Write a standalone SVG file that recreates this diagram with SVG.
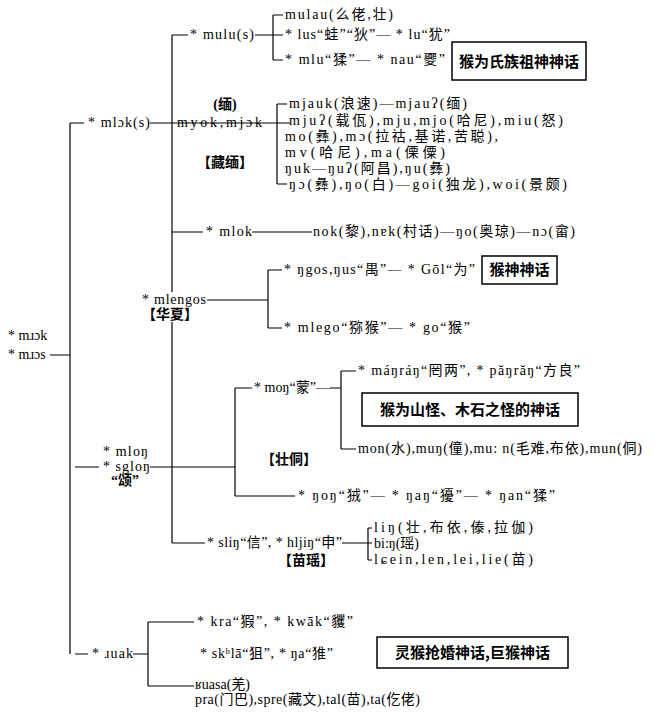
<svg xmlns="http://www.w3.org/2000/svg" width="660" height="720" viewBox="0 0 660 720">
<style>
.t{font-family:"Liberation Serif","Noto Sans CJK SC",serif;font-size:14px;fill:#000}
.c{text-anchor:middle}
.b{font-weight:bold}
.bx{font-family:"Noto Sans CJK SC",sans-serif;font-size:15px;font-weight:bold;fill:#000;text-anchor:middle}
.ln{stroke:#000;stroke-width:1.2;fill:none}
.box{stroke:#000;stroke-width:1.5;fill:#fff}
</style>
<rect width="660" height="720" fill="#fff"/>
<g id="connectors" class="ln">
<path d="M50 355H70M70 123V654"/>
<path d="M70 123H84M150 123H290"/>
<path d="M172 35V292M172 322V543"/>
<path d="M172 35H188M255 35H283M273 15V60M273 15H283M273 60H283"/>
<path d="M277 104V184M277 104H287M277 184H287"/>
<path d="M172 232H203M252 232H312"/>
<path d="M207 300H268M268 270V328M268 270H282M268 328H282"/>
<path d="M75 467H99M150 467H235M235 388V496M235 388H252M235 496H295"/>
<path d="M330 388H341M341 371V449M341 371H356M341 449H356"/>
<path d="M172 543H205M342 543H372M368 528V560M368 528H372M368 560H372"/>
<path d="M75 654H88M133 654H148M148 622V686M148 622H194M148 686H194"/>
</g>
<g id="root">
<text class="t" x="8" y="340">* mɹɔk</text>
<text class="t" x="8" y="359">* mɹɔs</text>
</g>
<g id="mlok-s">
<text class="t" x="88" y="127" textLength="62">* mlɔk(s)</text>
</g>
<g id="mulu-s">
<text class="t" x="190" y="39" textLength="64">* mulu(s)</text>
</g>
<g id="mulu-children">
<text class="t" x="285" y="19" textLength="108">mulau(么佬,壮)</text>
<text class="t" x="285" y="39" textLength="165">* lus“蛙”“狄”— * lu“犹”</text>
<text class="t" x="285" y="64" textLength="160">* mlu“猱”— * nau“夒”</text>
</g>
<g id="box-ancestor">
<rect class="box" x="452" y="42" width="134" height="38"/>
<text class="bx" x="519" y="67">猴为氏族祖神神话</text>
</g>
<g id="myok">
<text class="t c b" x="225" y="109">(缅)</text>
<text class="t" x="177" y="127" textLength="85">myok,mjɔk</text>
<text class="t c b" x="225" y="167">【藏缅】</text>
</g>
<g id="myok-children">
<text class="t" x="289" y="108" textLength="178">mjauk(浪速)—mjauʔ(缅)</text>
<text class="t" x="289" y="125" textLength="274">mjuʔ(载佤),mju,mjo(哈尼),miu(怒)</text>
<text class="t" x="285" y="141" textLength="213">mo(彝),mɔ(拉祜,基诺,苦聪),</text>
<text class="t" x="285" y="157" textLength="160">mv(哈尼),ma(傈僳)</text>
<text class="t" x="285" y="173" textLength="165">ŋuk—ŋuʔ(阿昌),ŋu(彝)</text>
<text class="t" x="289" y="189" textLength="278">ŋɔ(彝),ŋo(白)—goi(独龙),woi(景颇)</text>
</g>
<g id="mlok">
<text class="t" x="206" y="236" textLength="46">* mlok</text>
<text class="t" x="313" y="236" textLength="262">nok(黎),nɐk(村话)—ŋo(奥琼)—nɔ(畲)</text>
</g>
<g id="mlengos">
<text class="t" x="142" y="304" textLength="64">* mlengos</text>
<text class="t c b" x="170" y="319">【华夏】</text>
</g>
<g id="mlengos-children">
<text class="t" x="284" y="274" textLength="191">* ŋgos,ŋus“禺”— * Gōl“为”</text>
<text class="t" x="284" y="332" textLength="186">* mlego“猕猴”— * go“猴”</text>
</g>
<g id="box-monkey-god">
<rect class="box" x="482" y="256" width="75" height="28"/>
<text class="bx" x="519.5" y="275">猴神神话</text>
</g>
<g id="mlon">
<text class="t" x="103" y="456" textLength="45">* mloŋ</text>
<text class="t" x="103" y="471" textLength="47">* sgloŋ</text>
<text class="t c b" x="125" y="485">“颂”</text>
<text class="t c b" x="289" y="464">【壮侗】</text>
</g>
<g id="mon">
<text class="t" x="254" y="392" textLength="76">* moŋ“蒙”—</text>
</g>
<g id="mon-children">
<text class="t" x="358" y="375" textLength="222">* máŋráŋ“罔两”, * păŋrăŋ“方良”</text>
<text class="t" x="358" y="453" textLength="284">mon(水),muŋ(僮),mu: n(毛难,布依),mun(侗)</text>
</g>
<g id="box-mountain">
<rect class="box" x="362" y="393" width="216" height="33"/>
<text class="bx" x="470" y="415">猴为山怪、木石之怪的神话</text>
</g>
<g id="non">
<text class="t" x="298" y="500" textLength="257">* ŋoŋ“狨”— * ŋaŋ“獶”— * ŋan“猱”</text>
</g>
<g id="slin">
<text class="t" x="207" y="547" textLength="135">* sliŋ“信”, * hljiŋ“申”</text>
<text class="t c b" x="306" y="565">【苗瑶】</text>
</g>
<g id="slin-children">
<text class="t" x="374" y="532" textLength="159">liŋ(壮,布依,傣,拉伽)</text>
<text class="t" x="374" y="548">bi:ŋ(瑶)</text>
<text class="t" x="374" y="564" textLength="159">lɕein,len,lei,lie(苗)</text>
</g>
<g id="ruak">
<text class="t" x="92" y="658" textLength="41">* ɹuak</text>
</g>
<g id="ruak-children">
<text class="t" x="197" y="626" textLength="156">* kra“猳”, * kwāk“貜”</text>
<text class="t" x="200" y="658" textLength="133">* skʰlā“狙”, * ŋa“猚”</text>
<text class="t" x="195" y="689">ʁuasa(羌)</text>
<text class="t" x="195" y="704" textLength="225">pra(门巴),spre(藏文),tal(苗),ta(仡佬)</text>
</g>
<g id="box-marriage">
<rect class="box" x="377" y="637" width="191" height="31"/>
<text class="bx" x="472.5" y="658">灵猴抢婚神话,巨猴神话</text>
</g>
</svg>
